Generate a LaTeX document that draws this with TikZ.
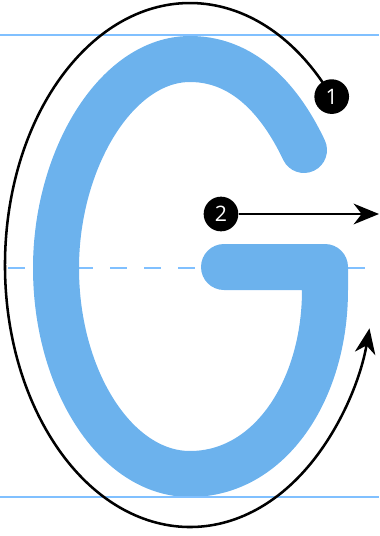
\documentclass[tikz,border=0pt]{standalone}
\usepackage{fontspec}
\setsansfont{Open Sans}
\usepackage{xcolor}
\usepackage{tikz}
\usetikzlibrary{positioning,arrows.meta}

\definecolor{letterblue}{RGB}{108,178,237}
\definecolor{guideblue}{RGB}{128,192,255}

\begin{document}
\begin{tikzpicture}[
    x=0.75pt, y=-0.75pt,
    guide/.style={draw=guideblue, line width=2pt},
    midguide/.style={draw=guideblue, line width=1.5pt, dash pattern=on 12.75pt off 12.75pt},
    letter/.style={draw=letterblue, line width=34.5pt, line cap=round, line join=round},
    marker/.style={circle, fill=black, text=white, minimum size=26pt, inner sep=0pt, font=\sffamily\fontsize{16}{16}\selectfont},
    arrow/.style={-{Stealth[length=19pt, width=15.5pt, inset=6pt]}, line width=1.9pt}
]
\useasboundingbox (0,0) rectangle (379,536);

% Midline (behind the letter)
\draw[midguide] (8,268) -- (379,268);

% Letter G
\draw[letter] (304,150) .. controls (285,110) and (250,59) .. (190,59)
    .. controls (116,59) and (56,160) .. (56,268)
    .. controls (56,380) and (116,474) .. (190,474)
    .. controls (270,474) and (325,390) .. (325,290)
    -- (325,267) -- (224,267);

% Ascender and baseline
\draw[guide] (0,35) -- (379,35);
\draw[guide] (0,497) -- (379,497);

% Stroke order
\coordinate (start1) at (331.7,96.6);
\coordinate (end2) at (379,214);
\draw[arrow] (start1) arc[start angle=-40, end angle=-346, x radius=185, y radius=262];
\node[marker] (m1) at (start1) {1};
\node[marker] (m2) at (221,214) {2};
\draw[arrow] (m2) -- (end2);

\end{tikzpicture}
\end{document}
